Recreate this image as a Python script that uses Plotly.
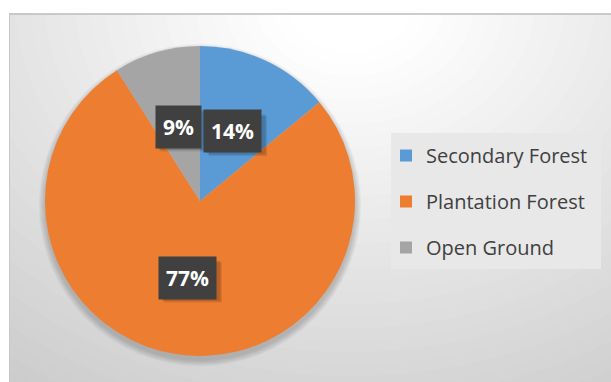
import math
import plotly.graph_objects as go

categories = ["Secondary Forest", "Plantation Forest", "Open Ground"]
values = [14, 77, 9]
colors = ["#5B9BD5", "#ED7D31", "#A5A5A5"]
label_texts = ["14%", "77%", "9%"]

W, H = 611, 382
CX, CY, R = 200, 201, 155  # pie centre / radius in px

fig = go.Figure()

# --- background gradient (radial from top centre) ---
shapes = []
GX, GY = 350, 0
steps = 40
for i in range(steps, 0, -1):
    rad = 40 + i * 12
    t = min(1.0, max(0.0, (rad - 60) / 480))
    c = int(255 - t * (255 - 196))
    shapes.append(dict(type="circle", xref="paper", yref="paper", layer="below",
                       x0=(GX - rad * 1.25) / W, x1=(GX + rad * 1.25) / W,
                       y0=1 - (GY + rad) / H, y1=1 - (GY - rad) / H,
                       fillcolor=f"rgb({c},{c},{c})", line=dict(width=0)))
# white margins
shapes.append(dict(type="rect", xref="paper", yref="paper", layer="below",
                   x0=0, x1=1, y0=1 - 13.5 / H, y1=1.05, fillcolor="white", line=dict(width=0)))
shapes.append(dict(type="rect", xref="paper", yref="paper", layer="below",
                   x0=-0.05, x1=9 / W, y0=-0.05, y1=1.05, fillcolor="white", line=dict(width=0)))
# border lines
shapes.append(dict(type="line", xref="paper", yref="paper", layer="below",
                   x0=9 / W, x1=1, y0=1 - 14 / H, y1=1 - 14 / H, line=dict(color="#BDBDBD", width=1.5)))
shapes.append(dict(type="line", xref="paper", yref="paper", layer="below",
                   x0=9.5 / W, x1=9.5 / W, y0=0, y1=1 - 14 / H, line=dict(color="#C8C8C8", width=1)))
# pie shadow (soft, mostly below)
for k in range(8, 0, -1):
    rr = R + k * 0.8
    shapes.append(dict(type="circle", xref="paper", yref="paper", layer="below",
                       x0=(CX - rr) / W, x1=(CX + rr) / W,
                       y0=1 - (CY + 4 + rr) / H, y1=1 - (CY + 4 - rr) / H,
                       fillcolor="rgba(0,0,0,0.022)", line=dict(width=0)))
# legend box
shapes.append(dict(type="rect", xref="paper", yref="paper", layer="below",
                   x0=391 / W, x1=601 / W, y0=1 - 269 / H, y1=1 - 133 / H,
                   fillcolor="#E8E8E8", line=dict(width=0)))

fig.add_trace(go.Pie(
    labels=categories, values=values, sort=False, direction="clockwise", rotation=0,
    marker=dict(colors=colors, line=dict(width=0)),
    textinfo="none", showlegend=False, hoverinfo="label+percent",
    domain=dict(x=[(CX - R) / W, (CX + R) / W], y=[1 - (CY + R) / H, 1 - (CY - R) / H]),
))

# legend proxies
for i, (name, col) in enumerate(zip(categories, colors)):
    fig.add_trace(go.Scatter(x=[None], y=[None], mode="markers", name=name,
                             legendgroup=f"g{i}",
                             marker=dict(symbol="square", size=12, color=col)))

# data labels
total = sum(values)
annotations = []
cum = 0
for v, txt in zip(values, label_texts):
    mid = (cum + v / 2) / total * 2 * math.pi
    cum += v
    px = CX + 0.5 * R * math.sin(mid)
    py = CY - 0.5 * R * math.cos(mid)
    bw, bh = 12 * len(txt) + 22, 40
    # soft shadow behind label box
    for s, a in ((5, 0.10), (3.5, 0.14)):
        shapes.append(dict(type="rect", xref="paper", yref="paper", layer="above",
                           x0=(px - bw / 2 + s) / W, x1=(px + bw / 2 + s) / W,
                           y0=1 - (py + bh / 2 + s) / H, y1=1 - (py - bh / 2 + s) / H,
                           fillcolor=f"rgba(0,0,0,{a})", line=dict(width=0)))
    annotations.append(dict(text=f"<b>{txt}</b>", xref="paper", yref="paper",
                            x=px / W, y=1 - py / H, showarrow=False,
                            borderpad=7, xanchor="center", yanchor="middle",
                            font=dict(family="Open Sans", size=21, color="white"),
                            bgcolor="#404040"))

fig.update_layout(
    width=W, height=H, margin=dict(l=0, r=0, t=0, b=0),
    paper_bgcolor="white", plot_bgcolor="rgba(0,0,0,0)",
    xaxis=dict(visible=False), yaxis=dict(visible=False),
    shapes=shapes, annotations=annotations,
    legend=dict(x=386 / W, y=1 - 136 / H, xanchor="left", yanchor="top",
                bgcolor="rgba(0,0,0,0)", tracegroupgap=17,
                font=dict(family="Open Sans", size=20, color="#404040")),
)

fig.write_html("out.html")
